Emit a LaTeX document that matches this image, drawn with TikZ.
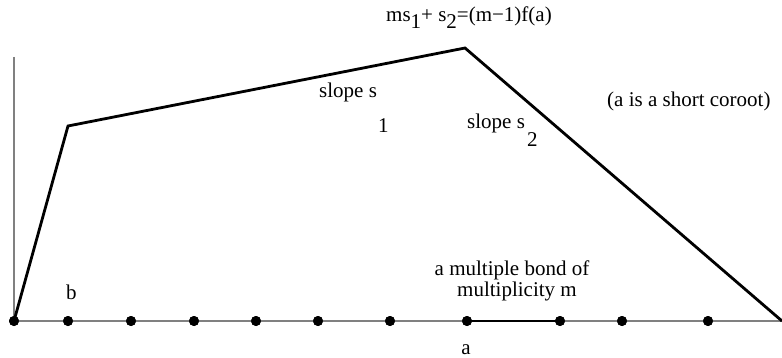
\documentclass[tikz,border=0pt]{standalone}
\usepackage{fontspec}
\setmainfont{Liberation Serif}
\newcommand\lowsub[1]{\raisebox{-0.3em}{#1}}
\begin{document}
\begin{tikzpicture}[x=1pt,y=-1pt,
  dot/.style={circle,fill=black,inner sep=0pt,minimum size=10pt},
  axisline/.style={draw=black!50,line width=1.8pt},
  graphline/.style={draw=black,line width=2.8pt,line join=miter},
  lbl/.style={inner sep=0pt,font=\fontsize{21}{24}\selectfont}]
\useasboundingbox (0,0) rectangle (782,358);
% axes
\coordinate (top) at (14,57);
\coordinate (rend) at (782,321);
\node[dot] (d0) at (14,321) {};
\node[dot] (d1) at (68,321) {};
\node[dot] (d2) at (131,321) {};
\node[dot] (d3) at (194,321) {};
\node[dot] (d4) at (256,321) {};
\node[dot] (d5) at (318,321) {};
\node[dot] (d6) at (390,321) {};
\node[dot] (d7) at (467,321) {};
\node[dot] (d8) at (560,321) {};
\node[dot] (d9) at (622,321) {};
\node[dot] (d10) at (708,321) {};
\draw[axisline] (top) -- (d0.center);
\draw[axisline] (d0.center) -- (rend);
\draw[black,line width=2.8pt] (d7.center) -- (d8.center);
% redraw dots on top
\foreach \i in {0,...,10} {\fill (d\i) circle (5pt);}
% graph
\coordinate (p1) at (68,126);
\coordinate (p2) at (465,48);
\draw[graphline] (d0.center) -- (p1) -- (p2) -- (rend);
% labels
\node[lbl,anchor=base west] (top label) at (386,22) {ms\lowsub{1}+ s\lowsub{2}=(m−1)f(a)};
\node[lbl,anchor=base west] (s1) at (319,98) {slope s};
\node[lbl,anchor=base west] (s1i) at (378,133) {1};
\node[lbl,anchor=base west] (s2) at (467,129) {slope s};
\node[lbl,anchor=base west] (s2i) at (527,147) {2};
\node[lbl,anchor=base west] (note) at (607,107) {(a is a short coroot)};
\node[lbl,anchor=base west] (b) at (66,299) {b};
\node[lbl,anchor=base] (mb1) at (512,276) {a multiple bond of};
\node[lbl,anchor=base] (mb2) at (517,296) {multiplicity m};
\node[lbl,anchor=base] (a) at (466,354) {a};
\end{tikzpicture}
\end{document}
